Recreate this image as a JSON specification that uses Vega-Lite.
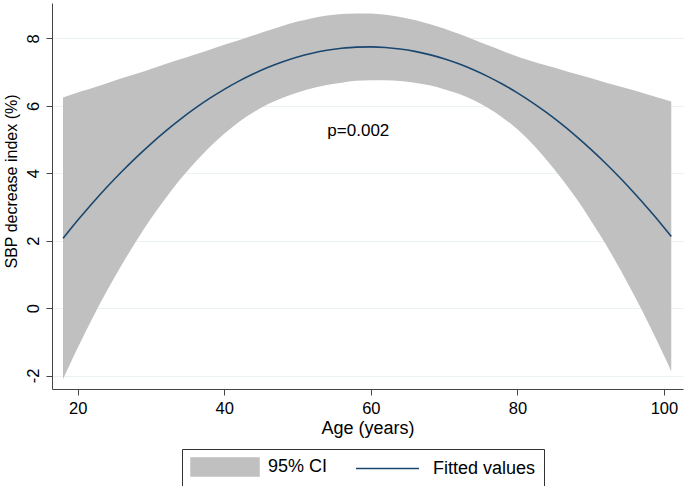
{
  "$schema": "https://vega.github.io/schema/vega-lite/v6.json",
  "width": 631,
  "height": 386,
  "autosize": {"type": "none"},
  "padding": {"left": 52, "top": 3, "right": 2, "bottom": 97},
  "background": "white",
  "config": {
    "view": {"stroke": null},
    "font": "Liberation Sans",
    "axis": {"labelFont": "Liberation Sans", "titleFont": "Liberation Sans", "labelColor": "#000", "titleColor": "#000", "titleFontWeight": "normal", "domainColor": "#444", "tickColor": "#444", "tickSize": 6}
  },
  "data": {"values": [
    {"age": 18, "fit": 2.070, "lo": -2.110, "hi": 6.250},
    {"age": 19, "fit": 2.340, "lo": -1.640, "hi": 6.320},
    {"age": 20, "fit": 2.603, "lo": -1.187, "hi": 6.393},
    {"age": 21, "fit": 2.860, "lo": -0.740, "hi": 6.460},
    {"age": 22, "fit": 3.110, "lo": -0.310, "hi": 6.530},
    {"age": 24, "fit": 3.591, "lo": 0.511, "hi": 6.671},
    {"age": 26, "fit": 4.045, "lo": 1.275, "hi": 6.815},
    {"age": 28, "fit": 4.473, "lo": 1.993, "hi": 6.953},
    {"age": 30, "fit": 4.874, "lo": 2.654, "hi": 7.094},
    {"age": 32, "fit": 5.250, "lo": 3.260, "hi": 7.240},
    {"age": 34, "fit": 5.599, "lo": 3.819, "hi": 7.379},
    {"age": 36, "fit": 5.922, "lo": 4.322, "hi": 7.522},
    {"age": 38, "fit": 6.219, "lo": 4.774, "hi": 7.664},
    {"age": 40, "fit": 6.489, "lo": 5.169, "hi": 7.809},
    {"age": 42, "fit": 6.733, "lo": 5.523, "hi": 7.943},
    {"age": 44, "fit": 6.951, "lo": 5.811, "hi": 8.091},
    {"age": 46, "fit": 7.143, "lo": 6.053, "hi": 8.233},
    {"age": 48, "fit": 7.308, "lo": 6.238, "hi": 8.378},
    {"age": 50, "fit": 7.448, "lo": 6.398, "hi": 8.498},
    {"age": 52, "fit": 7.560, "lo": 6.520, "hi": 8.600},
    {"age": 54, "fit": 7.647, "lo": 6.617, "hi": 8.677},
    {"age": 56, "fit": 7.707, "lo": 6.687, "hi": 8.727},
    {"age": 58, "fit": 7.742, "lo": 6.742, "hi": 8.742},
    {"age": 60, "fit": 7.749, "lo": 6.759, "hi": 8.739},
    {"age": 62, "fit": 7.731, "lo": 6.761, "hi": 8.701},
    {"age": 64, "fit": 7.686, "lo": 6.736, "hi": 8.636},
    {"age": 66, "fit": 7.616, "lo": 6.686, "hi": 8.546},
    {"age": 68, "fit": 7.518, "lo": 6.608, "hi": 8.428},
    {"age": 70, "fit": 7.395, "lo": 6.495, "hi": 8.295},
    {"age": 72, "fit": 7.245, "lo": 6.355, "hi": 8.135},
    {"age": 74, "fit": 7.069, "lo": 6.169, "hi": 7.969},
    {"age": 76, "fit": 6.867, "lo": 5.937, "hi": 7.797},
    {"age": 78, "fit": 6.639, "lo": 5.649, "hi": 7.629},
    {"age": 80, "fit": 6.384, "lo": 5.304, "hi": 7.464},
    {"age": 82, "fit": 6.103, "lo": 4.883, "hi": 7.323},
    {"age": 84, "fit": 5.796, "lo": 4.396, "hi": 7.196},
    {"age": 86, "fit": 5.463, "lo": 3.853, "hi": 7.073},
    {"age": 88, "fit": 5.103, "lo": 3.263, "hi": 6.943},
    {"age": 90, "fit": 4.717, "lo": 2.607, "hi": 6.827},
    {"age": 92, "fit": 4.305, "lo": 1.915, "hi": 6.695},
    {"age": 94, "fit": 3.866, "lo": 1.156, "hi": 6.576},
    {"age": 96, "fit": 3.401, "lo": 0.351, "hi": 6.451},
    {"age": 98, "fit": 2.911, "lo": -0.499, "hi": 6.321},
    {"age": 99, "fit": 2.655, "lo": -0.945, "hi": 6.255},
    {"age": 100, "fit": 2.393, "lo": -1.407, "hi": 6.193},
    {"age": 101, "fit": 2.125, "lo": -1.875, "hi": 6.125}
  ]},
  "layer": [
    {
      "mark": {"type": "area", "interpolate": "monotone"},
      "encoding": {
        "x": {"field": "age", "type": "quantitative", "scale": {"domain": [16.5, 102.6], "nice": false, "zero": false},
              "axis": {"title": "Age (years)", "values": [20, 40, 60, 80, 100], "grid": false, "labelFontSize": 16.5, "titleFontSize": 18, "labelPadding": 5, "titlePadding": 3}},
        "y": {"field": "lo", "type": "quantitative", "scale": {"domain": [-2.4, 9.05], "nice": false, "zero": false},
              "axis": {"title": "SBP decrease index (%)", "values": [-2, 0, 2, 4, 6, 8], "labelExpr": "datum.value + ''", "grid": true, "gridColor": "#eaf2f3", "gridWidth": 1.2, "labelAngle": -90, "labelAlign": "center", "labelBaseline": "bottom", "labelFontSize": 16.5, "titleFontSize": 16, "labelPadding": 5, "titlePadding": 6, "titleY": 178}},
        "y2": {"field": "hi"},
        "color": {"datum": "95% CI", "type": "nominal",
                  "scale": {"domain": ["95% CI", "Fitted values"], "range": ["#c0c0c0", "#1a476f"]},
                  "legend": {
                    "orient": "none", "legendX": 130, "legendY": 446, "direction": "horizontal", "title": null,
                    "labelFontSize": 18, "labelFont": "Liberation Sans", "labelColor": "#000",
                    "strokeColor": "#333", "fillColor": "#fff", "padding": 8, "columnPadding": 25, "labelOffset": 58,
                    "symbolSize": 324,
                    "encode": {"symbols": {"update": {
                      "shape": {"signal": "datum.value === '95% CI' ? 'M-1,-1H6.556V1H-1Z' : 'M-1,0H6'"},
                      "fill": {"signal": "datum.value === '95% CI' ? '#c0c0c0' : 'transparent'"},
                      "stroke": {"signal": "datum.value === '95% CI' ? 'transparent' : '#1a476f'"},
                      "strokeWidth": {"value": 1.5},
                      "size": {"value": 324},
                      "opacity": {"value": 1}
                    }}}
                  }}
      }
    },
    {
      "mark": {"type": "line", "interpolate": "monotone", "strokeWidth": 1.6},
      "encoding": {
        "x": {"field": "age", "type": "quantitative"},
        "y": {"field": "fit", "type": "quantitative"},
        "color": {"datum": "Fitted values", "type": "nominal"}
      }
    },
    {
      "data": {"values": [{"age": 58.3, "v": 5.25, "label": "p=0.002"}]},
      "mark": {"type": "text", "fontSize": 17, "font": "Liberation Sans", "color": "#000"},
      "encoding": {
        "x": {"field": "age", "type": "quantitative"},
        "y": {"field": "v", "type": "quantitative"},
        "text": {"field": "label"}
      }
    }
  ]
}
